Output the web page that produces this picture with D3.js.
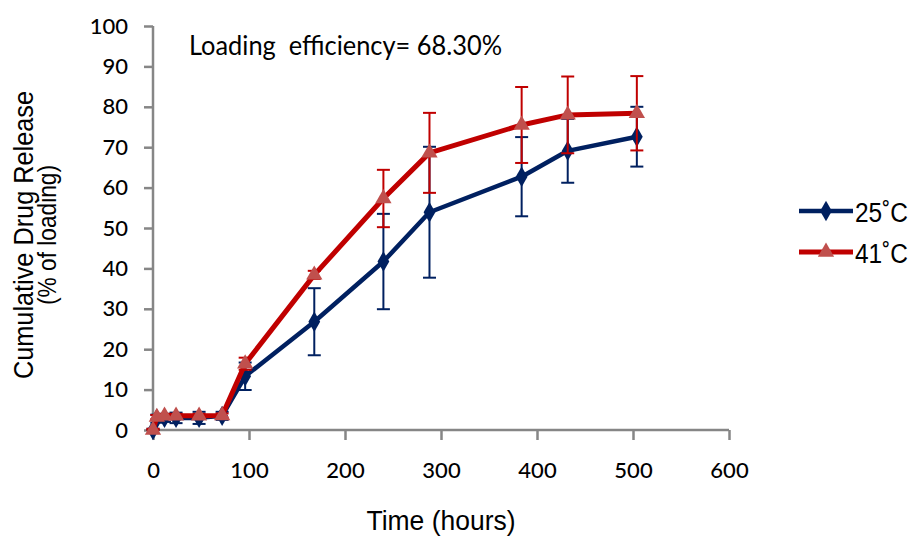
<!DOCTYPE html>
<html>
<head>
<meta charset="utf-8">
<script src="https://cdn.jsdelivr.net/npm/d3@7"></script>
<style>
  html, body { margin: 0; padding: 0; background: #fff; }
  svg { display: block; }
</style>
</head>
<body>
<div id="chart"></div>
<script>
// Sampling times (hours)
const hours = [0, 4, 12, 24, 48, 72, 96, 168, 240, 288, 384, 432, 504];
// Cumulative release (% of loading) and standard deviations
const release25 = [0, 2.8, 3.0, 3.0, 3.0, 3.5, 13.3, 26.8, 41.7, 53.9, 62.7, 69.1, 72.6];
const error25   = [0.3, 1.0, 1.0, 1.3, 1.5, 1.0, 3.4, 8.3, 11.8, 16.2, 9.8, 7.9, 7.4];
const release41 = [0, 3.2, 3.5, 3.5, 3.5, 3.6, 16.4, 38.4, 57.3, 68.6, 75.5, 78.0, 78.4];
const error41   = [0.3, 0.5, 0.5, 0.5, 0.5, 0.5, 1.5, 1.0, 7.1, 9.9, 9.4, 9.5, 9.2];
const seriesNames = ["25˚C", "41˚C"];
const xTicks = [0, 100, 200, 300, 400, 500, 600];
const yTicks = [0, 10, 20, 30, 40, 50, 60, 70, 80, 90, 100];

const W = 915, H = 536;
const svg = d3.select("#chart").append("svg").attr("width", W).attr("height", H);
svg.append("rect").attr("width", W).attr("height", H).attr("fill", "#fff");

const x = d3.scaleLinear().domain([0, 600]).range([153, 729]);
const y = d3.scaleLinear().domain([0, 100]).range([430, 26]);

const axisColor = "#868686";
const tickFont = "Lato, 'Open Sans', sans-serif";
const arial = "'Liberation Sans', Arial, sans-serif";

// Y axis
const yAxis = svg.append("g").attr("transform", `translate(${x(0)},0)`)
  .call(d3.axisLeft(y).tickValues(yTicks).tickSize(9).tickPadding(16).tickFormat(d3.format("d")));
// X axis
const xAxis = svg.append("g").attr("transform", `translate(0,${y(0)})`)
  .call(d3.axisBottom(x).tickValues(xTicks).tickSize(10).tickPadding(22).tickFormat(d3.format("d")));

[yAxis, xAxis].forEach(g => {
  g.select(".domain").attr("stroke", axisColor).attr("stroke-width", 2.5);
  g.selectAll(".tick line").attr("stroke", axisColor).attr("stroke-width", 2.5);
  g.selectAll(".tick text").attr("fill", "#000").style("font-family", tickFont)
    .style("font-size", "22px").style("font-weight", 500);
});
// axis spines drawn without the end ticks
yAxis.select(".domain").attr("d", `M0,${y(0)}V${y(100)}`);
xAxis.select(".domain").attr("d", `M${x(0)},0H${x(600)}`);

// Series drawing
const series = [
  { name: seriesNames[0], vals: release25, errs: error25, line: "#002060", marker: "#002060", err: "#002060", width: 4.5, shape: d3.symbolDiamond, size: 120 },
  { name: seriesNames[1], vals: release41, errs: error41, line: "#C00000", marker: "#C0504D", err: "#C00000", width: 5, shape: d3.symbolTriangle, size: 115 }
];

const lineGen = d3.line().x(d => x(d[0])).y(d => y(d[1]));

series.forEach(s => {
  const pts = hours.map((h, i) => [h, s.vals[i], s.errs[i]]);
  const g = svg.append("g");
  // error bars
  const eb = g.append("g").attr("stroke", s.err).attr("stroke-width", 2);
  pts.forEach(p => {
    const cx = x(p[0]), top = y(p[1] + p[2]), bot = y(Math.max(0, p[1] - p[2]));
    eb.append("line").attr("x1", cx).attr("x2", cx).attr("y1", top).attr("y2", bot);
    eb.append("line").attr("x1", cx - 6.5).attr("x2", cx + 6.5).attr("y1", top).attr("y2", top);
    eb.append("line").attr("x1", cx - 6.5).attr("x2", cx + 6.5).attr("y1", bot).attr("y2", bot);
  });
  g.append("path").datum(pts).attr("d", lineGen).attr("fill", "none")
    .attr("stroke", s.line).attr("stroke-width", s.width).attr("stroke-linejoin", "round");
  g.selectAll("path.m").data(pts).join("path").attr("class", "m")
    .attr("transform", d => `translate(${x(d[0])},${y(d[1])})`)
    .attr("d", d3.symbol().type(s.shape).size(s.size))
    .attr("fill", s.marker);
});

// Legend
const legendY = [211, 252];
series.forEach((s, i) => {
  const g = svg.append("g").attr("transform", `translate(0,${legendY[i]})`);
  g.append("line").attr("x1", 799).attr("x2", 853).attr("y1", 0).attr("y2", 0)
    .attr("stroke", s.line).attr("stroke-width", s.width);
  g.append("path").attr("transform", "translate(826,0)")
    .attr("d", d3.symbol().type(s.shape).size(s.size)).attr("fill", s.marker);
  g.append("text").attr("x", 855).attr("y", 11).text(s.name)
    .attr("textLength", 53).attr("lengthAdjust", "spacingAndGlyphs")
    .style("font-family", arial).style("font-size", "27px").attr("fill", "#000");
});

// Annotation
svg.append("text").attr("x", 189).attr("y", 55)
  .attr("textLength", 313).attr("lengthAdjust", "spacingAndGlyphs")
  .style("font-family", tickFont).style("font-size", "27px").attr("fill", "#000")
  .style("white-space", "pre")
  .text("Loading  efficiency= 68.30%");

// Axis titles
svg.append("text").attr("x", 441).attr("y", 530).attr("text-anchor", "middle")
  .attr("textLength", 149).attr("lengthAdjust", "spacingAndGlyphs")
  .style("font-family", arial).style("font-size", "27px").attr("fill", "#000")
  .text("Time (hours)");

const yt = svg.append("g").attr("transform", "translate(0,235) rotate(-90)");
yt.append("text").attr("x", 0).attr("y", 33).attr("text-anchor", "middle")
  .attr("textLength", 288).attr("lengthAdjust", "spacingAndGlyphs")
  .style("font-family", arial).style("font-size", "27px").attr("fill", "#000")
  .text("Cumulative Drug Release");
yt.append("text").attr("x", 0).attr("y", 56).attr("text-anchor", "middle")
  .attr("textLength", 140).attr("lengthAdjust", "spacingAndGlyphs")
  .style("font-family", arial).style("font-size", "25px").attr("fill", "#000")
  .text("(% of loading)");
</script>
</body>
</html>
